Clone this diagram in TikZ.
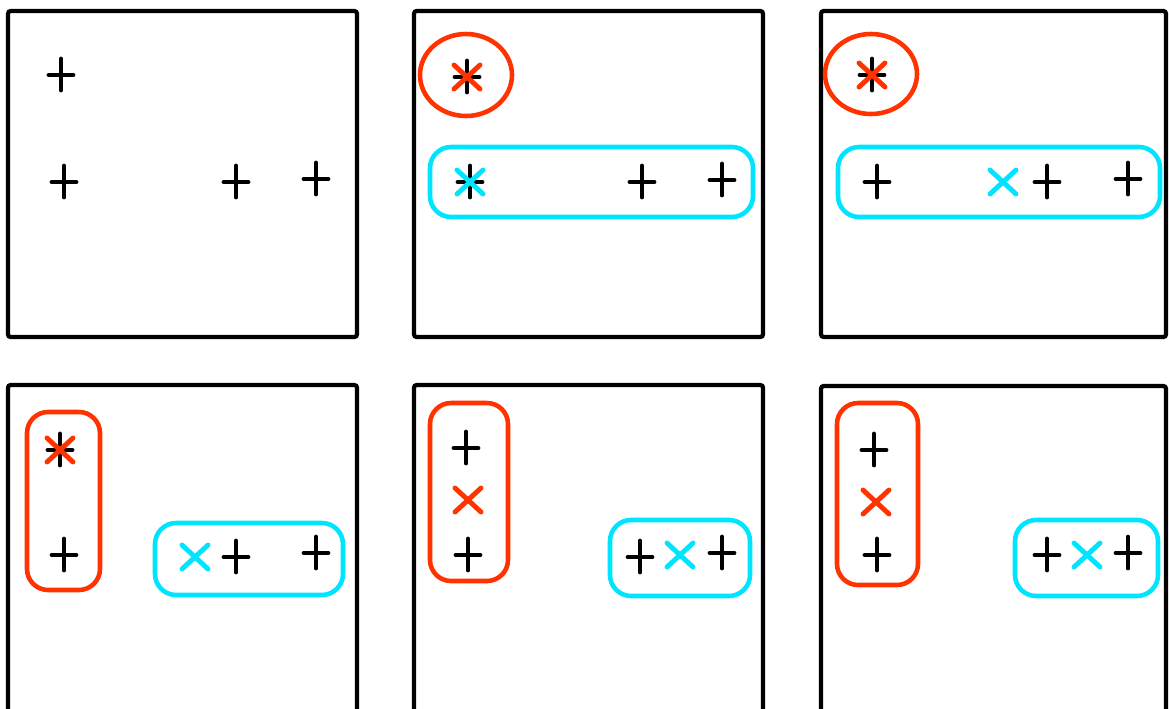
\documentclass[tikz,border=0pt]{standalone}
\usetikzlibrary{positioning}
\definecolor{clred}{RGB}{255, 51, 0}
\definecolor{clcyan}{RGB}{0, 229, 255}

\begin{document}
\begin{tikzpicture}[x=0.02cm, y=-0.02cm,
  frame/.style={draw=black, line width=2.4pt, rounded corners=1.5pt},
  grpred/.style={draw=clred, line width=2.6pt, rounded corners=12pt},
  grpcyan/.style={draw=clcyan, line width=2.6pt, rounded corners=12pt},
  pt/.pic={\draw[line width=2.8pt, line cap=round] (-12,0) -- (12,0) (0,-16) -- (0,15);},
  ctr/.pic={\draw[line width=2.8pt, line cap=round] (-13,-12) -- (13,12) (-13,12) -- (13,-12);}
]
  \clip (0,0) rectangle (1169,708);
  \fill[white] (0,0) rectangle (1169,708);

  % panel frames
  \draw[frame] (8,11) rectangle (357,337);
  \draw[frame] (414,11) rectangle (763,337);
  \draw[frame] (821,11) rectangle (1166,337);
  \draw[frame] (8,385) rectangle (357,730);
  \draw[frame] (414,385) rectangle (763,730);
  \draw[frame] (821,386) rectangle (1166,730);

  % data only
  \foreach \p in {(61,75),(64,182),(236,182),(316,179)}
    \pic at \p {pt};

  % random start
  \draw[draw=clred, line width=2.6pt] (466,75) ellipse (46 and 41);
  \draw[grpcyan] (430,147) rectangle (753,217);
  \foreach \p in {(467,77),(470,182),(642,182),(722,180)}
    \pic at \p {pt};
  \pic[clred] at (467,77) {ctr};
  \pic[clcyan] at (470,182) {ctr};

  % first update
  \draw[draw=clred, line width=2.6pt] (871,74) ellipse (46 and 40);
  \draw[grpcyan] (838,147) rectangle (1160,217);
  \foreach \p in {(872,75),(877,182),(1047,182),(1128,179)}
    \pic at \p {pt};
  \pic[clred] at (872,75) {ctr};
  \pic[clcyan] at (1003,182) {ctr};

  % reassign
  \draw[grpred] (27,412) rectangle (100,590);
  \draw[grpcyan] (155,523) rectangle (343,595);
  \foreach \p in {(60,450),(64,555),(236,557),(316,553)}
    \pic at \p {pt};
  \pic[clred] at (60,450) {ctr};
  \pic[clcyan] at (195,557) {ctr};

  % second update
  \draw[grpred] (430,403) rectangle (508,581);
  \draw[grpcyan] (610,520) rectangle (750,596);
  \foreach \p in {(466,448),(468,555),(640,557),(722,553)}
    \pic at \p {pt};
  \pic[clred] at (468,500) {ctr};
  \pic[clcyan] at (680,555) {ctr};

  % converged
  \draw[grpred] (837,403) rectangle (918,585);
  \draw[grpcyan] (1015,520) rectangle (1158,596);
  \foreach \p in {(874,450),(877,555),(1047,555),(1128,553)}
    \pic at \p {pt};
  \pic[clred] at (876,502) {ctr};
  \pic[clcyan] at (1087,555) {ctr};
\end{tikzpicture}
\end{document}
